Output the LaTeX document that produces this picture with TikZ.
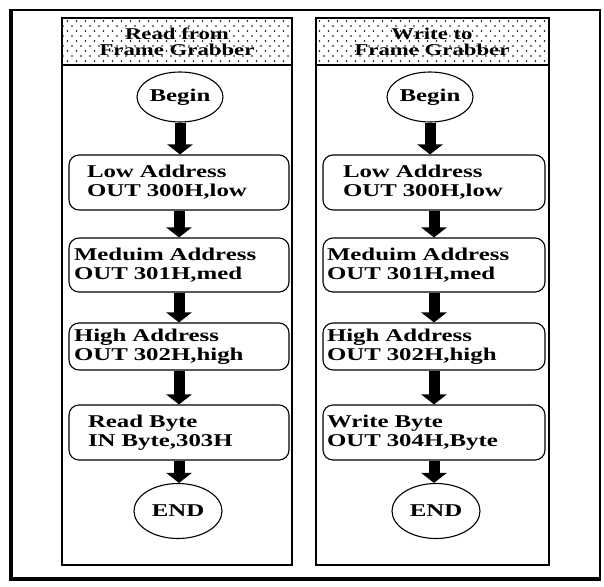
\documentclass[tikz,border=0pt]{standalone}
\usepackage{fontspec}
\setmainfont{Liberation Serif}[FakeStretch=1.38]
\usetikzlibrary{arrows.meta,patterns,shapes.geometric}
\pgfdeclarepatternformonly{sdots}{\pgfqpoint{-1pt}{-1pt}}{\pgfqpoint{6pt}{7pt}}{\pgfqpoint{9pt}{10pt}}{%
  \pgfpathcircle{\pgfqpoint{0pt}{0pt}}{0.9pt}%
  \pgfpathcircle{\pgfqpoint{4.5pt}{5pt}}{0.9pt}%
  \pgfusepath{fill}}
\tikzset{
  txt/.style={font=\fontsize{18}{19}\selectfont\bfseries},
  htxt/.style={font=\fontsize{16.5}{16.5}\selectfont\bfseries, align=center, inner sep=0pt},
  pbox/.style n args={3}{draw, line width=1.1pt, rounded corners=10pt, txt,
    minimum width=#1, minimum height=#2, text width=#3, align=left,
    inner xsep=0pt, inner ysep=0pt},
  oval/.style n args={2}{draw, line width=1.1pt, ellipse, txt,
    minimum width=#1, minimum height=#2, inner sep=0pt},
  bigarrow/.style={line width=11pt, -{Triangle[width=25pt,length=10pt]}},
  panel/.style={draw, line width=1.2pt},
  header/.style={draw, line width=1.2pt, pattern=sdots},
}
\begin{document}
\begin{tikzpicture}[x=1pt,y=-1pt]
\useasboundingbox (0,0) rectangle (604,586);
% outer frame
\draw[line width=1.5pt] (10,10) rectangle (600,580);
\draw[line width=3.5pt] (11,10) -- (11,579) -- (600,579);
% panels
\draw[panel] (62,18) rectangle (292,565);
\draw[header] (62,18) rectangle (292,65);
\draw[panel] (316,18) rectangle (549,565);
\draw[header] (316,18) rectangle (549,65);
\node[htxt] (t1) at (177,42) {Read from\\Frame Grabber};
\node[htxt] (t2) at (432,42) {Write to\\Frame Grabber};
% left column
\node[oval={86pt}{50pt}] (b1) at (180,97) {Begin};
\node[pbox={220pt}{55pt}{184pt}] (l1) at (179,182.5) {Low Address\\OUT 300H,low};
\node[pbox={220pt}{54pt}{210pt}] (m1) at (179,265) {Meduim Address\\OUT 301H,med};
\node[pbox={220pt}{47pt}{210pt}] (h1) at (179,346.5) {High Address\\OUT 302H,high};
\node[pbox={220pt}{55pt}{182pt}] (r1) at (179,432.5) {Read Byte\\IN Byte,303H};
\node[oval={88pt}{55pt}] (e1) at (178,511) {END};
% right column
\node[oval={86pt}{50pt}] (b2) at (430,97) {Begin};
\node[pbox={222pt}{55pt}{182pt}] (l2) at (434,182.5) {Low Address\\OUT 300H,low};
\node[pbox={222pt}{54pt}{214pt}] (m2) at (434,265) {Meduim Address\\OUT 301H,med};
\node[pbox={222pt}{47pt}{214pt}] (h2) at (434,346.5) {High Address\\OUT 302H,high};
\node[pbox={222pt}{55pt}{214pt}] (w2) at (434,432.5) {Write Byte\\OUT 304H,Byte};
\node[oval={88pt}{55pt}] (e2) at (436,511) {END};
% arrows
\draw[bigarrow] (b1.south) -- (b1.south |- l1.north);
\draw[bigarrow] (l1.south) -- (m1.north);
\draw[bigarrow] (m1.south) -- (h1.north);
\draw[bigarrow] (h1.south) -- (r1.north);
\draw[bigarrow] (r1.south) -- (r1.south |- e1.north);
\draw[bigarrow] (b2.south) -- (b2.south |- l2.north);
\draw[bigarrow] (l2.south) -- (m2.north);
\draw[bigarrow] (m2.south) -- (h2.north);
\draw[bigarrow] (h2.south) -- (w2.north);
\draw[bigarrow] (w2.south) -- (w2.south |- e2.north);
\end{tikzpicture}
\end{document}
